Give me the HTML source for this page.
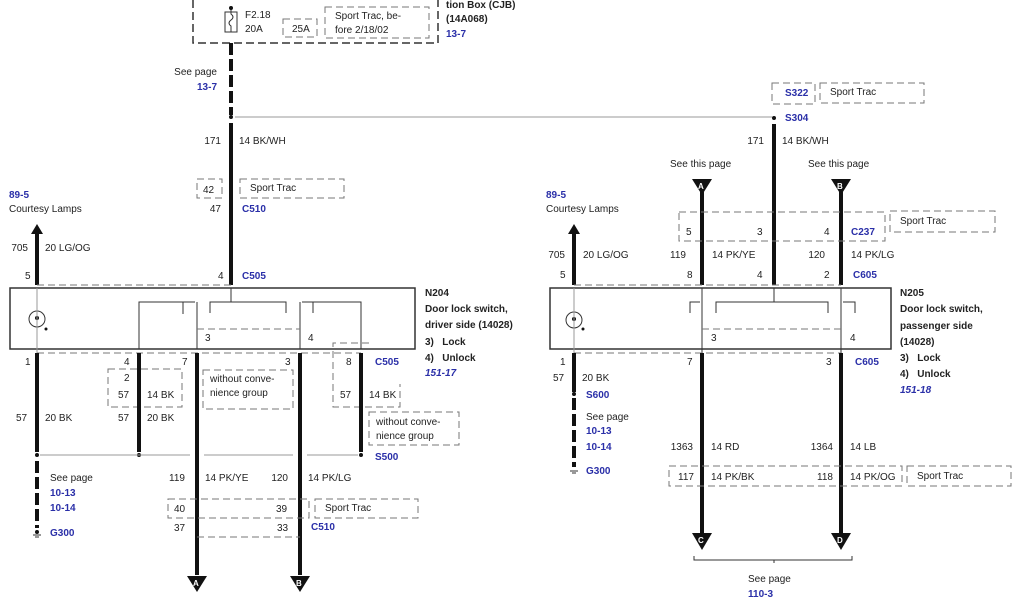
<!DOCTYPE html>
<html><head><meta charset="utf-8"><style>
html,body{margin:0;padding:0;background:#fff;}
svg{display:block;}
text{font-family:"Liberation Sans",sans-serif;font-size:10px;fill:#222;}
.b{fill:#2a2fa8;font-weight:bold;}
.bd{font-weight:bold;}
.r{text-anchor:end;}
.w{stroke:#111;stroke-width:4;fill:none;}
.wd{stroke:#111;stroke-width:4;fill:none;stroke-dasharray:12,4;}
.t{stroke:#333;stroke-width:1;fill:none;}
.g{stroke:#999;stroke-width:1;fill:none;}
.d{stroke:#777;stroke-width:1;fill:none;stroke-dasharray:7,4;}
.dk{stroke:#333;stroke-width:1.5;fill:none;stroke-dasharray:8,4;}
</style></head><body>
<svg width="1024" height="600" viewBox="0 0 1024 600" xmlns="http://www.w3.org/2000/svg">
<path class="dk" d="M193,0 V43 H438 V0"/>
<rect x="225" y="12" width="12" height="20" class="t"/>
<path class="t" d="M231,8 V14 q4,3 0,6 q-4,3 0,6 V32"/>
<circle cx="231" cy="8" r="2" fill="#111"/>
<text x="245" y="18">F2.18</text><text x="245" y="32">20A</text>
<rect x="283" y="19" width="34" height="18" class="d"/><text x="292" y="32">25A</text>
<rect x="325" y="7" width="104" height="31" class="d"/>
<text x="335" y="19">Sport Trac, be-</text><text x="335" y="33">fore 2/18/02</text>
<text x="446" y="8" class="bd">tion Box (CJB)</text><text x="446" y="22" class="bd">(14A068)</text><text x="446" y="37" class="b">13-7</text>
<path class="wd" d="M231,43 V115"/>
<text x="217" y="75" class="r">See page</text><text x="217" y="90" class="b r">13-7</text>
<circle cx="231" cy="117" r="2" fill="#111"/>
<path class="g" d="M235,117 H772"/>
<path class="w" d="M231,123 V285"/>
<text x="221" y="144" class="r">171</text><text x="239" y="144">14 BK/WH</text>
<rect x="197" y="179" width="25" height="19" class="d"/><text x="203" y="193">42</text>
<rect x="240" y="179" width="104" height="19" class="d"/><text x="250" y="191">Sport Trac</text>
<text x="221" y="212" class="r">47</text><text x="242" y="212" class="b">C510</text>
<text x="9" y="198" class="b">89-5</text><text x="9" y="212">Courtesy Lamps</text>
<path class="w" d="M37,285 V232"/><path d="M31,234 L37,224 L43,234Z" fill="#111"/>
<text x="28" y="251" class="r">705</text><text x="45" y="251">20 LG/OG</text>
<text x="25" y="279">5</text><text x="218" y="279">4</text><text x="242" y="279" class="b">C505</text>
<path class="d" d="M37,285 H231"/>
<rect x="10" y="288" width="405" height="61" fill="none" stroke="#333" stroke-width="1.5"/>
<text x="425" y="296" class="bd">N204</text><text x="425" y="312" class="bd">Door lock switch,</text>
<text x="425" y="328" class="bd">driver side (14028)</text><text x="425" y="345" class="bd">3)&#160;&#160;&#160;Lock</text>
<text x="425" y="361" class="bd">4)&#160;&#160;&#160;Unlock</text><text x="425" y="376" class="b" font-style="italic">151-17</text>
<circle cx="37" cy="319" r="8" class="t"/><circle cx="37" cy="318" r="2" fill="#111"/><circle cx="46" cy="329" r="1.5" fill="#111"/>
<path class="g" d="M37,288 V353"/>
<path class="t" d="M139,349 V302 H195 M183,302 V314 M197,302 V349 M231,288 V302 M210,313 V302 H286 V313 M300,302 V349 M302,302 H361 V349 M313,302 V313"/>
<path class="d" d="M197,329 H300"/>
<text x="205" y="341">3</text><text x="308" y="341">4</text>
<path class="d" d="M37,353 H361"/>
<text x="25" y="365">1</text><text x="124" y="365">4</text><text x="182" y="365">7</text><text x="285" y="365">3</text><text x="346" y="365">8</text>
<text x="375" y="365" class="b">C505</text>
<rect x="108" y="369" width="74" height="38" class="d"/>
<text x="124" y="381">2</text><text x="118" y="398">57</text><text x="147" y="398">14 BK</text>
<rect x="203" y="370" width="90" height="39" class="d"/>
<text x="210" y="382">without conve-</text><text x="210" y="396">nience group</text>
<path class="d" d="M369,343 H333 V407 H400 V384"/>
<text x="340" y="398">57</text><text x="369" y="398">14 BK</text>
<rect x="369" y="412" width="90" height="33" class="d"/>
<text x="376" y="425">without conve-</text><text x="376" y="439">nience group</text>
<text x="16" y="421">57</text><text x="45" y="421">20 BK</text><text x="118" y="421">57</text><text x="147" y="421">20 BK</text>
<path class="w" d="M37,353 V452 M139,353 V452 M361,353 V452 M197,353 V575 M300,353 V575"/>
<circle cx="37" cy="455" r="2" fill="#111"/><circle cx="139" cy="455" r="2" fill="#111"/><circle cx="361" cy="455" r="2" fill="#111"/>
<path class="g" d="M40,455 H190 M204,455 H293 M307,455 H358"/>
<text x="375" y="460" class="b">S500</text>
<path class="wd" d="M37,461 V528"/><circle cx="37" cy="532" r="2" fill="#111"/><path class="t" d="M33,535 H41 M35,537 H39"/>
<text x="50" y="481">See page</text><text x="50" y="496" class="b">10-13</text><text x="50" y="511" class="b">10-14</text><text x="50" y="536" class="b">G300</text>
<text x="185" y="481" class="r">119</text><text x="205" y="481">14 PK/YE</text>
<text x="288" y="481" class="r">120</text><text x="308" y="481">14 PK/LG</text>
<rect x="168" y="499" width="141" height="19" class="d"/><text x="174" y="512">40</text><text x="276" y="512">39</text>
<rect x="315" y="499" width="103" height="19" class="d"/><text x="325" y="511">Sport Trac</text>
<text x="174" y="531">37</text><text x="277" y="531">33</text><text x="311" y="530" class="b">C510</text>
<path class="d" d="M197,537 H300"/>
<path d="M187,576 L207,576 L197,592Z" fill="#111"/><text x="193" y="586" style="fill:#fff;font-size:8px;font-weight:bold">A</text>
<path d="M290,576 L310,576 L300,592Z" fill="#111"/><text x="296" y="586" style="fill:#fff;font-size:8px;font-weight:bold">B</text>
<rect x="772" y="83" width="43" height="21" class="d"/><text x="785" y="96" class="b">S322</text>
<rect x="820" y="83" width="104" height="20" class="d"/><text x="830" y="95">Sport Trac</text>
<circle cx="774" cy="118" r="2" fill="#111"/><text x="785" y="121" class="b">S304</text>
<path class="w" d="M774,124 V285"/>
<text x="764" y="144" class="r">171</text><text x="782" y="144">14 BK/WH</text>
<text x="670" y="167">See this page</text><text x="808" y="167">See this page</text>
<path d="M692,179 L712,179 L702,195Z" fill="#111"/><text x="698" y="189" style="fill:#fff;font-size:8px;font-weight:bold">A</text>
<path d="M831,179 L851,179 L841,195Z" fill="#111"/><text x="837" y="189" style="fill:#fff;font-size:8px;font-weight:bold">B</text>
<path class="w" d="M702,192 V285 M841,192 V285"/>
<rect x="679" y="212" width="206" height="29" class="d"/>
<rect x="890" y="211" width="105" height="21" class="d"/><text x="900" y="224">Sport Trac</text>
<text x="686" y="235">5</text><text x="757" y="235">3</text><text x="824" y="235">4</text><text x="851" y="235" class="b">C237</text>
<text x="546" y="198" class="b">89-5</text><text x="546" y="212">Courtesy Lamps</text>
<path class="w" d="M574,285 V232"/><path d="M568,234 L574,224 L580,234Z" fill="#111"/>
<text x="565" y="258" class="r">705</text><text x="583" y="258">20 LG/OG</text>
<text x="686" y="258" class="r">119</text><text x="712" y="258">14 PK/YE</text>
<text x="825" y="258" class="r">120</text><text x="851" y="258">14 PK/LG</text>
<text x="560" y="278">5</text><text x="687" y="278">8</text><text x="757" y="278">4</text><text x="824" y="278">2</text><text x="853" y="278" class="b">C605</text>
<path class="d" d="M574,285 H841"/>
<rect x="550" y="288" width="341" height="61" fill="none" stroke="#333" stroke-width="1.5"/>
<text x="900" y="296" class="bd">N205</text><text x="900" y="312" class="bd">Door lock switch,</text>
<text x="900" y="329" class="bd">passenger side</text><text x="900" y="345" class="bd">(14028)</text>
<text x="900" y="361" class="bd">3)&#160;&#160;&#160;Lock</text><text x="900" y="377" class="bd">4)&#160;&#160;&#160;Unlock</text>
<text x="900" y="393" class="b" font-style="italic">151-18</text>
<circle cx="574" cy="320" r="8" class="t"/><circle cx="574" cy="319" r="2" fill="#111"/><circle cx="583" cy="329" r="1.5" fill="#111"/>
<path class="g" d="M574,288 V353"/>
<path class="t" d="M702,288 V353 M841,288 V353 M690,313 V302 H700 M774,288 V302 M716,313 V302 H828 V313 M843,302 H855 V313"/>
<path class="d" d="M702,329 H841"/>
<text x="711" y="341">3</text><text x="850" y="341">4</text>
<path class="d" d="M574,353 H841"/>
<text x="560" y="365">1</text><text x="687" y="365">7</text><text x="826" y="365">3</text><text x="855" y="365" class="b">C605</text>
<path class="w" d="M574,353 V392 M702,353 V535 M841,353 V535"/>
<circle cx="574" cy="394" r="2" fill="#111"/>
<path class="wd" d="M574,398 V467"/><path class="t" d="M570,471 H578 M572,473 H576"/>
<text x="553" y="381">57</text><text x="582" y="381">20 BK</text>
<text x="586" y="398" class="b">S600</text><text x="586" y="420">See page</text>
<text x="586" y="434" class="b">10-13</text><text x="586" y="450" class="b">10-14</text><text x="586" y="474" class="b">G300</text>
<text x="693" y="450" class="r">1363</text><text x="711" y="450">14 RD</text>
<text x="833" y="450" class="r">1364</text><text x="850" y="450">14 LB</text>
<rect x="669" y="466" width="233" height="20" class="d"/>
<text x="694" y="480" class="r">117</text><text x="711" y="480">14 PK/BK</text>
<text x="817" y="480">118</text><text x="850" y="480">14 PK/OG</text>
<rect x="907" y="466" width="104" height="20" class="d"/><text x="917" y="479">Sport Trac</text>
<path d="M692,533 L712,533 L702,550Z" fill="#111"/><text x="698" y="543" style="fill:#fff;font-size:8px;font-weight:bold">C</text>
<path d="M831,533 L851,533 L841,550Z" fill="#111"/><text x="837" y="543" style="fill:#fff;font-size:8px;font-weight:bold">D</text>
<path class="t" stroke-width="1.5" d="M694,556 V560 H852 V556 M774,560 V563"/>
<text x="748" y="582">See page</text><text x="748" y="597" class="b">110-3</text>
</svg>
</body></html>
